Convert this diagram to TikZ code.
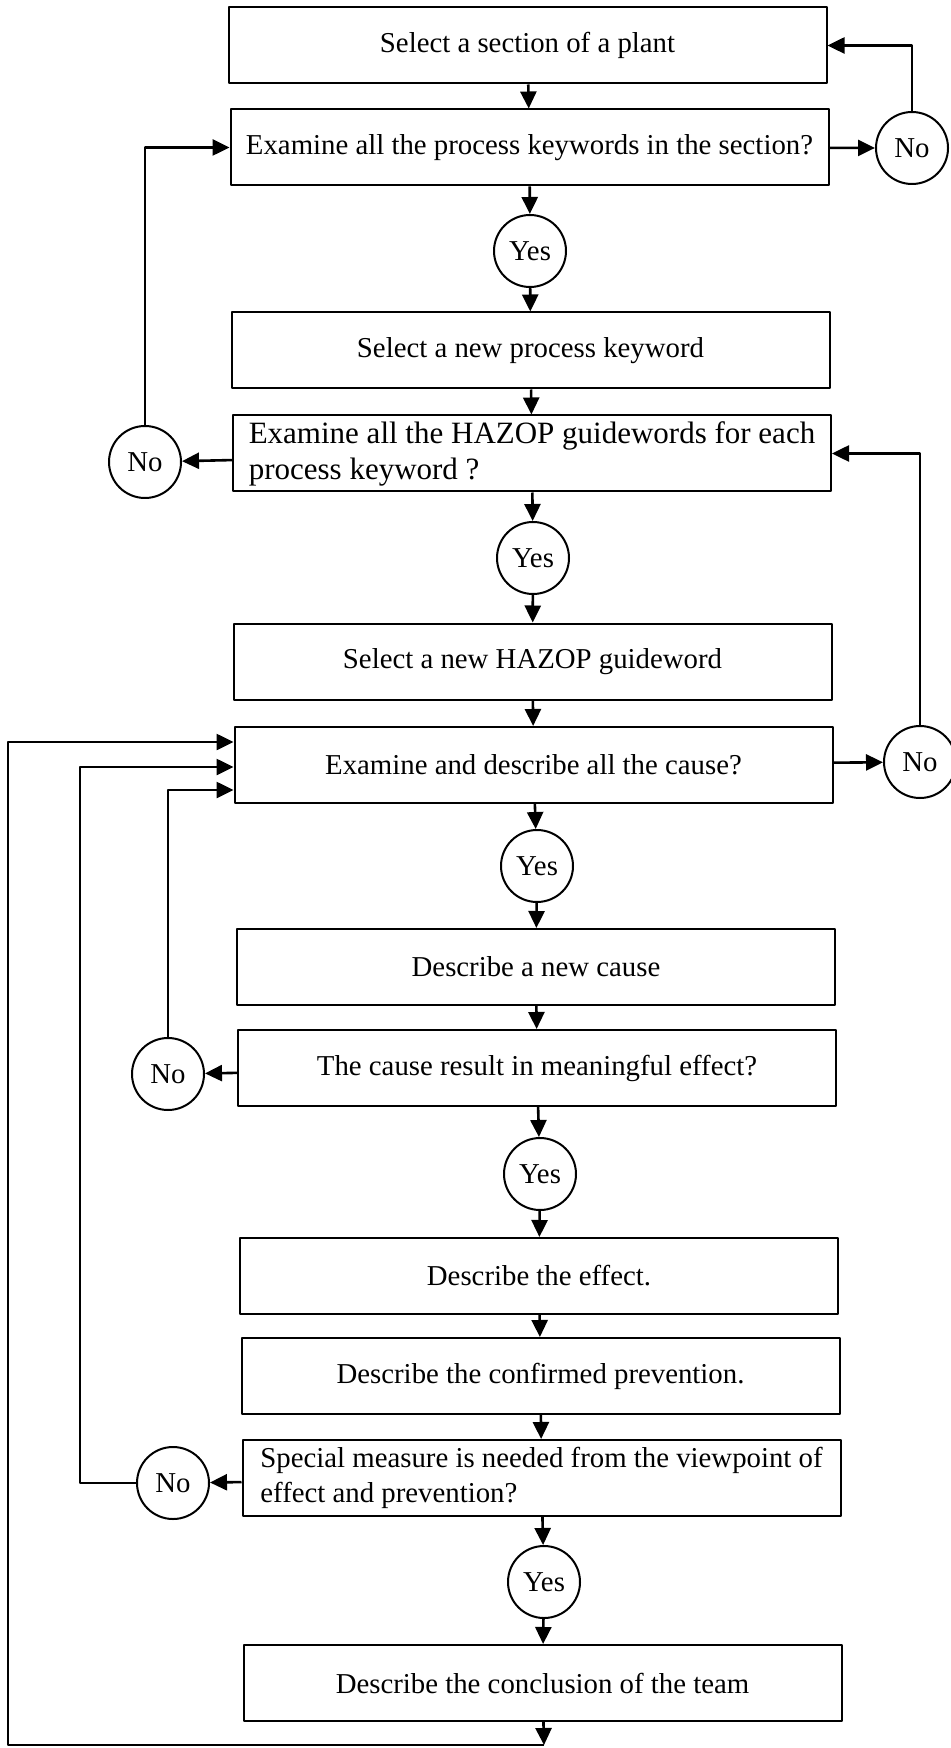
\documentclass[tikz,border=0pt]{standalone}
\usepackage{fontspec}
\setmainfont{Liberation Serif}
\usepackage{tikz}
\usetikzlibrary{arrows.meta,calc}

\begin{document}
\begin{tikzpicture}[x=0.5pt, y=-0.5pt, line join=round,
  >={Triangle[length=8.5pt,width=8pt]},
  box/.style={draw, line width=1pt, minimum width=299pt, minimum height=38pt,
    inner sep=0pt, font=\fontsize{14.4}{17}\selectfont},
  twoline/.style={box, align=left, font=\fontsize{14.8}{17.8}\selectfont},
  ans/.style={draw, circle, line width=1pt, minimum size=36pt, inner sep=0pt,
    font=\fontsize{14.4}{17}\selectfont},
  flow/.style={line width=1.3pt}]
  \useasboundingbox (0,0) rectangle (950,1748);
  % process boxes
  \node[box] (b1) at (527.5,45.5) {Select a section of a plant};
  \node[box] (b2) at (529.5,147.5) {Examine all the process keywords in the section?};
  \node[box] (b3) at (530.5,350.5) {Select a new process keyword};
  \node[twoline, font=\fontsize{15.5}{18}\selectfont] (b4) at (532,453.5) {Examine all the HAZOP guidewords for each\\process keyword ?};
  \node[box] (b5) at (532.5,661.5) {Select a new HAZOP guideword};
  \node[box] (b6) at (533.5,765) {Examine and describe all the cause?};
  \node[box] (b7) at (536,967) {Describe a new cause};
  \node[box] (b8) at (537,1068) {The cause result in meaningful effect?};
  \node[box] (b9) at (539,1276) {Describe the effect.};
  \node[box] (b10) at (540.5,1376) {Describe the confirmed prevention.};
  \node[twoline, font=\fontsize{14.4}{17.8}\selectfont] (b11) at (541.5,1478) {Special measure is needed from the viewpoint of\\effect and prevention?};
  \node[box] (b12) at (542.5,1683) {Describe the conclusion of the team};
  % yes / no circles
  \node[ans] (n1) at (912,148) {No};
  \node[ans] (y1) at (530,251) {Yes};
  \node[ans] (n2) at (145,462) {No};
  \node[ans] (y2) at (533,558) {Yes};
  \node[ans] (n3) at (920,762) {No};
  \node[ans] (y3) at (537,866) {Yes};
  \node[ans] (n4) at (168,1074) {No};
  \node[ans] (y4) at (540,1174) {Yes};
  \node[ans] (n5) at (173,1483) {No};
  \node[ans] (y5) at (544,1582) {Yes};
  \coordinate (bend) at (544,1745);
  % main column
  \draw[flow,->] (b1) -- (b2);
  \draw[flow,->] (b2) -- (y1);
  \draw[flow,->] (y1) -- (b3);
  \draw[flow,->] (b3) -- (b4);
  \draw[flow,->] (b4) -- (y2);
  \draw[flow,->] (y2) -- (b5);
  \draw[flow,->] (b5) -- (b6);
  \draw[flow,->] (b6) -- (y3);
  \draw[flow,->] (y3) -- (b7);
  \draw[flow,->] (b7) -- (b8);
  \draw[flow,->] (b8) -- (y4);
  \draw[flow,->] (y4) -- (b9);
  \draw[flow,->] (b9) -- (b10);
  \draw[flow,->] (b10) -- (b11);
  \draw[flow,->] (b11) -- (y5);
  \draw[flow,->] (y5) -- (b12);
  \draw[flow,->] (b12) -- (bend);
  % loops back
  \draw[flow,->] (b2) -- (n1);
  \draw[flow,->] (n1) |- (b1);
  \draw[flow,->] (b4) -- (n2);
  \draw[flow,->] (n2) |- (b2);
  \draw[flow,->] (b6) -- (n3);
  \draw[flow,->] (n3) |- (b4);
  \draw[flow,->] (b8) -- (n4);
  \draw[flow,->] (n4) |- ($(b6.west)+(0,25)$);
  \draw[flow,->] (b11) -- (n5);
  \draw[flow,->] (n5) -- (80,1483) |- ($(b6.west)+(0,2)$);
  \draw[flow,->] (bend) -- (8,1745) |- ($(b6.west)+(0,-23)$);
\end{tikzpicture}
\end{document}
